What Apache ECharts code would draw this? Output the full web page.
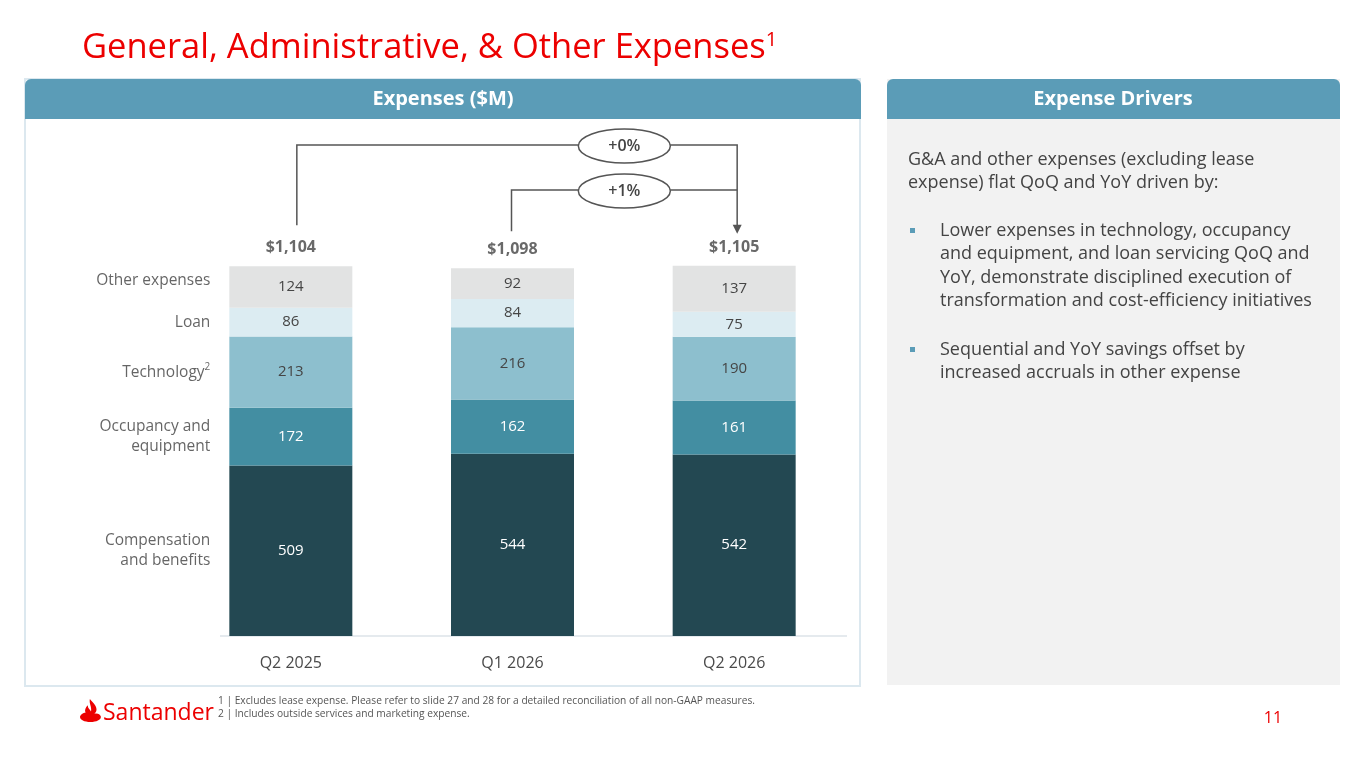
<!DOCTYPE html>
<html>
<head>
<meta charset="utf-8">
<script src="https://cdn.jsdelivr.net/npm/echarts@6/dist/echarts.min.js"></script>
<style>
html, body { margin: 0; padding: 0; background: #fff; }
#container { width: 1365px; height: 768px; }
</style>
</head>
<body>
<div id="container"></div>
<script>
// chart data
var categories = ['Q2 2025', 'Q1 2026', 'Q2 2026'];
var compensation = [509, 544, 542];
var occupancy = [172, 162, 161];
var technology = [213, 216, 190];
var loan = [86, 84, 75];
var other = [124, 92, 137];
var totals = [1104, 1098, 1105];
var changes = ['+0%', '+1%'];   // YoY (Q2 2025 -> Q2 2026), QoQ (Q1 2026 -> Q2 2026)

var seriesNames = ['Compensation\nand benefits', 'Occupancy and\nequipment', 'Technology{sup|2}', 'Loan', 'Other expenses'];
var seriesData = [compensation, occupancy, technology, loan, other];
var seriesColors = ['#234852', '#438ea2', '#8dbfce', '#dcecf2', '#e2e3e3'];
var labelColors = ['#ffffff', '#ffffff', '#454545', '#454545', '#454545'];

var red = '#ec0000';
var headerBlue = '#5b9cb7';
var font = '"Open Sans", "Noto Sans", sans-serif';

// santander flame, registered as a custom graphic shape
var Flame = echarts.graphic.extendPath(
    'M9 0 C12 4 15 6 15 10 C15 12 14 13 13 14 C16 13 19 15 19 17 C19 20 15 22 9.5 22 C4 22 0 20 0 17 C0 15 3 13 5 13 C4 11 5 8 7 6 C7 9 9 10 10 12 C11 8 8 4 9 0 Z',
    {}
);
echarts.graphic.registerShape('flame', Flame);

var dom = document.getElementById('container');
var myChart = echarts.init(dom);

// bar series (stacked)
var series = [];
for (var i = 0; i < seriesData.length; i++) {
    series.push({
        name: 'S' + i,
        type: 'bar',
        stack: 'exp',
        barWidth: 123,
        data: seriesData[i],
        itemStyle: { color: seriesColors[i] },
        label: {
            show: true,
            position: 'inside',
            color: labelColors[i],
            fontFamily: font,
            fontSize: 15
        },
        animation: false
    });
}

// left-side names, placed at the middle of each segment of the first bar
var mids = [];
var acc = 0;
for (var i = 0; i < seriesData.length; i++) {
    mids.push([0, acc + seriesData[i][0] / 2]);
    acc += seriesData[i][0];
}
series.push({
    type: 'scatter',
    symbolSize: 1,
    itemStyle: { color: 'transparent' },
    data: mids.map(function (m, i) {
        return {
            value: m,
            label: { offset: i === 4 ? [0, -6] : [0, 0] }
        };
    }),
    label: {
        show: true,
        position: 'left',
        distance: 80,
        align: 'right',
        color: '#3f3f3f',
        fontFamily: font,
        fontSize: 15.5,
        lineHeight: 20,
        formatter: function (p) { return seriesNames[p.dataIndex]; },
        rich: {
            sup: { fontSize: 10, verticalAlign: 'top', color: '#3f3f3f', fontFamily: font, padding: [0, 0, 6, 0] }
        }
    },
    silent: true,
    animation: false
});

// totals on top of bars
series.push({
    type: 'scatter',
    symbolSize: 1,
    itemStyle: { color: 'transparent' },
    data: totals.map(function (t, i) { return [i, t]; }),
    label: {
        show: true,
        position: 'top',
        distance: 10,
        color: '#444',
        fontFamily: font,
        fontSize: 16,
        fontWeight: 'bold',
        formatter: function (p) { return '$' + totals[p.dataIndex].toLocaleString('en-US'); }
    },
    silent: true,
    animation: false
});

var baseGraphics = [
    // left panel
    { type: 'rect', z: -10, shape: { x: 25, y: 79, width: 835, height: 607 },
      style: { fill: '#fff', stroke: '#dce8ef', lineWidth: 2 } },
    { type: 'rect', z: -9, shape: { x: 25, y: 79, width: 836, height: 40, r: [6, 6, 0, 0] },
      style: { fill: headerBlue } },
    { type: 'text', z: 5, x: 443, y: 99,
      style: { text: 'Expenses ($M)', fill: '#fff', font: 'bold 20px ' + font, align: 'center', verticalAlign: 'middle' } },
    // right panel
    { type: 'rect', z: -10, shape: { x: 887, y: 79, width: 453, height: 606 },
      style: { fill: '#f2f2f2' } },
    { type: 'rect', z: -9, shape: { x: 887, y: 79, width: 453, height: 40, r: [6, 6, 0, 0] },
      style: { fill: headerBlue } },
    { type: 'text', z: 5, x: 1113, y: 99,
      style: { text: 'Expense Drivers', fill: '#fff', font: 'bold 20px ' + font, align: 'center', verticalAlign: 'middle' } },
    { type: 'text', z: 5, x: 908, y: 148,
      style: { text: 'G&A and other expenses (excluding lease\nexpense) flat QoQ and YoY driven by:',
               fill: '#444', font: '18px ' + font, lineHeight: 23.5 } },
    { type: 'rect', z: 5, shape: { x: 910, y: 228, width: 5, height: 5 }, style: { fill: headerBlue } },
    { type: 'text', z: 5, x: 940, y: 219,
      style: { text: 'Lower expenses in technology, occupancy\nand equipment, and loan servicing QoQ and\nYoY, demonstrate disciplined execution of\ntransformation and cost-efficiency initiatives',
               fill: '#444', font: '18px ' + font, lineHeight: 23.5 } },
    { type: 'rect', z: 5, shape: { x: 910, y: 347, width: 5, height: 5 }, style: { fill: headerBlue } },
    { type: 'text', z: 5, x: 940, y: 338,
      style: { text: 'Sequential and YoY savings offset by\nincreased accruals in other expense',
               fill: '#444', font: '18px ' + font, lineHeight: 23.5 } },
    // x axis baseline
    { type: 'line', z: 1, shape: { x1: 220, y1: 636, x2: 847, y2: 636 },
      style: { stroke: '#dde3e8', lineWidth: 1.5 } },
    // footer
    { type: 'flame', z: 5, x: 80, y: 699, scaleX: 1.1, scaleY: 1.05, style: { fill: red } },
    { type: 'text', z: 5, x: 103, y: 713,
      style: { text: 'Santander', fill: red, font: '500 23px ' + font, verticalAlign: 'middle' } },
    { type: 'text', z: 5, x: 218, y: 701,
      style: { text: '1 | Excludes lease expense. Please refer to slide 27 and 28 for a detailed reconciliation of all non-GAAP measures.',
               fill: '#555', font: '10.2px ' + font, verticalAlign: 'middle' } },
    { type: 'text', z: 5, x: 218, y: 714,
      style: { text: '2 | Includes outside services and marketing expense.',
               fill: '#555', font: '10.2px ' + font, verticalAlign: 'middle' } },
    { type: 'text', z: 5, x: 1273, y: 718,
      style: { text: '11', fill: red, font: '16px ' + font, align: 'center', verticalAlign: 'middle' } }
];

option = {
    backgroundColor: '#fff',
    title: {
        text: 'General, Administrative, & Other Expenses{sup|1}',
        left: 77,
        top: 25,
        textStyle: {
            color: red,
            fontFamily: font,
            fontSize: 34.5,
            fontWeight: 'normal',
            rich: {
                sup: { color: red, fontFamily: font, fontSize: 20, verticalAlign: 'top', padding: [0, 0, 16, 0] }
            }
        }
    },
    grid: { left: 180, right: 520, top: 234, bottom: 132, containLabel: false },
    xAxis: {
        type: 'category',
        data: categories,
        axisLine: { show: false },
        axisTick: { show: false },
        axisLabel: { margin: 19, color: '#4a4a4a', fontFamily: font, fontSize: 16 }
    },
    yAxis: {
        type: 'value',
        min: 0,
        max: 1200,
        show: false,
        splitLine: { show: false }
    },
    series: series,
    graphic: baseGraphics,
    animation: false
};

myChart.setOption(option, true);

// change brackets, anchored to the bar totals
function addBrackets() {
    var p0 = myChart.convertToPixel({ gridIndex: 0 }, [0, totals[0]]);
    var p1 = myChart.convertToPixel({ gridIndex: 0 }, [1, totals[1]]);
    var p2 = myChart.convertToPixel({ gridIndex: 0 }, [2, totals[2]]);
    var lx = p0[0] + 6, lx2 = p1[0] - 1, rx = p2[0] + 3;
    var y1 = 145, y2 = 190;
    var tip = p2[1] - 32;
    var cx = (lx2 + rx) / 2;
    var stroke = { stroke: '#555', lineWidth: 1.5, fill: null };
    var g = baseGraphics.slice();
    g.push({ type: 'polyline', z: 3, shape: { points: [[lx, p0[1] - 41], [lx, y1], [rx, y1], [rx, tip - 8]] }, style: stroke });
    g.push({ type: 'polygon', z: 3, shape: { points: [[rx - 4.5, tip - 9], [rx + 4.5, tip - 9], [rx, tip]] }, style: { fill: '#555' } });
    g.push({ type: 'polyline', z: 3, shape: { points: [[lx2, p1[1] - 37], [lx2, y2], [rx, y2]] }, style: stroke });
    [y1, y2].forEach(function (y, i) {
        g.push({ type: 'ellipse', z: 4, shape: { cx: cx, cy: y + 1, rx: 46, ry: 17 },
                 style: { fill: '#fff', stroke: '#555', lineWidth: 1.5 } });
        g.push({ type: 'text', z: 5, x: cx, y: y + 1,
                 style: { text: changes[i], fill: '#444', font: '600 16px ' + font, align: 'center', verticalAlign: 'middle' } });
    });
    myChart.setOption({ graphic: g }, { replaceMerge: ['graphic'] });
}
addBrackets();
</script>
</body>
</html>
